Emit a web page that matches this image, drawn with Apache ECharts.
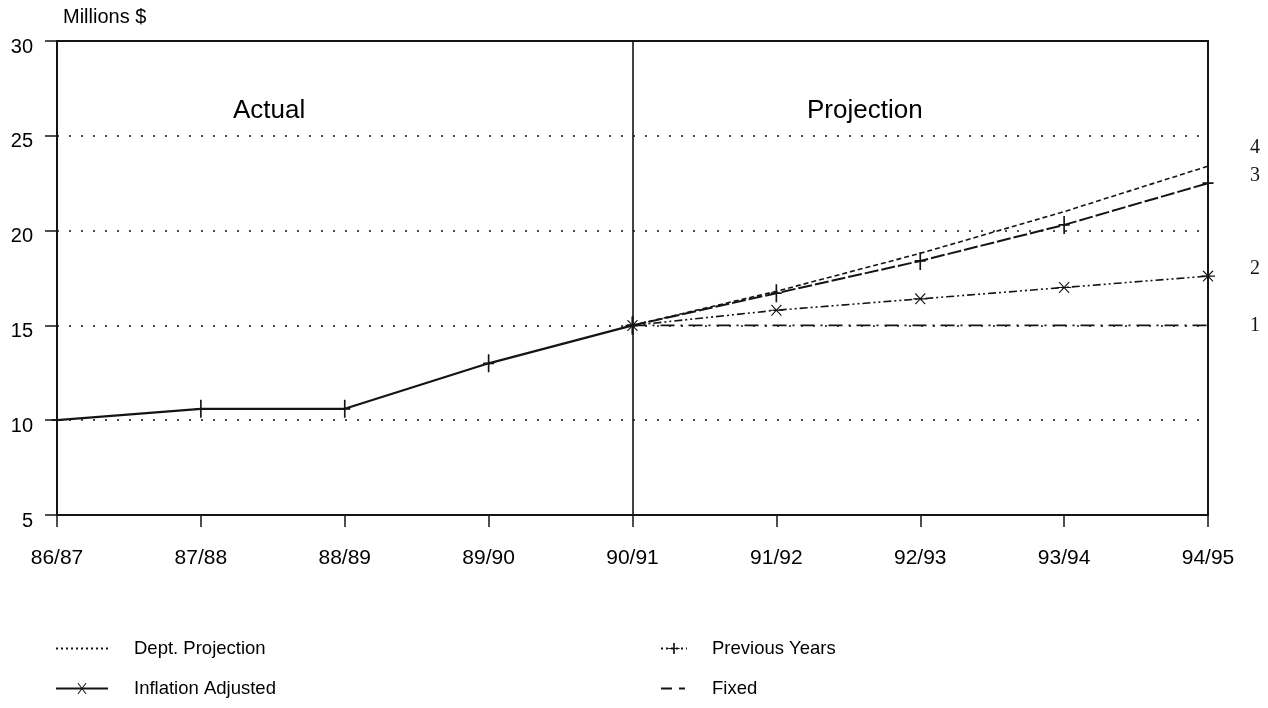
<!DOCTYPE html>
<html>
<head>
<meta charset="utf-8">
<script src="https://cdn.jsdelivr.net/npm/echarts@6/dist/echarts.min.js"></script>
<style>html,body{margin:0;padding:0;background:#fff;}#c{width:1268px;height:708px;}</style>
</head>
<body>
<div id="c"></div>
<script>
const categories = ['86/87','87/88','88/89','89/90','90/91','91/92','92/93','93/94','94/95'];
const actualValues = [10.0, 10.6, 10.6, 13.0, 15.0, null, null, null, null];
const deptProjection = [null, null, null, null, 15.0, 16.8, 18.8, 21.0, 23.4];
const inflationAdjusted = [null, null, null, null, 15.0, 15.8, 16.4, 17.0, 17.6];
const previousYears = [null, null, null, null, 15.0, 16.7, 18.4, 20.3, 22.5];
const fixedValues = [null, null, null, null, 15.0, 15.0, 15.0, 15.0, 15.0];
const yTicks = [5, 10, 15, 20, 25, 30];
const lineNumbers = {dept: '4', prev: '3', infl: '2', fixed: '1'};

const INK = '#141414';
const plusPath = 'path://M-0.12,-1H0.12V1H-0.12Z M-0.8,-0.1H0.8V0.1H-0.8Z';
const starPath = 'path://M-1,-0.1H1V0.1H-1Z M-0.8,-0.95L-0.62,-1L0.8,0.95L0.62,1Z M0.62,-1L0.8,-0.95L-0.62,1L-0.8,0.95Z';
const font = '"Liberation Sans", Arial, sans-serif';
const serif = '"Liberation Serif", "DejaVu Serif", serif';

function endLab(txt, dy) {
  return {show: true, formatter: txt, fontFamily: serif, fontSize: 20, color: INK, offset: [34, dy]};
}
// legend-only proxies (no data) that carry the legend key styles
function proxy(name, dash, width, symbol, visibleSymbol) {
  return {name: name, type: 'line', data: [], symbol: symbol, symbolSize: 12,
    lineStyle: {color: INK, width: width, type: dash},
    itemStyle: visibleSymbol ? {color: INK} : {color: 'rgba(0,0,0,0)', borderWidth: 0}};
}

const chart = echarts.init(document.getElementById('c'));
chart.setOption({
  animation: false,
  backgroundColor: '#fff',
  grid: {left: 57, right: 60, top: 41, bottom: 193, show: true, borderColor: INK, borderWidth: 2},
  xAxis: {
    type: 'category', data: categories, boundaryGap: false,
    axisLine: {lineStyle: {color: INK, width: 2}},
    axisTick: {show: true, length: 12, lineStyle: {color: INK, width: 1.5}},
    axisLabel: {color: '#000', fontFamily: font, fontSize: 21, margin: 33},
    splitLine: {show: false}
  },
  yAxis: {
    type: 'value', min: 5, max: 30, interval: 5,
    name: 'Millions $', nameLocation: 'end', nameGap: 14,
    nameTextStyle: {color: '#000', fontFamily: font, fontSize: 20, align: 'left', padding: [0, 0, 0, 6]},
    axisLine: {show: true, lineStyle: {color: INK, width: 2}},
    axisTick: {show: true, length: 12, lineStyle: {color: INK, width: 1.5}},
    axisLabel: {color: '#000', fontFamily: font, fontSize: 20, margin: 24, verticalAlign: 'top', lineHeight: 12},
    splitLine: {show: true, lineStyle: {color: INK, type: [2, 10], width: 1.6}}
  },
  legend: [
    {data: ['Dept. Projection', 'Inflation Adjusted'],
     orient: 'vertical', left: 55, top: 639, padding: 0,
     itemWidth: 52, itemHeight: 14, itemGap: 21,
     textStyle: {color: '#000', fontFamily: font, fontSize: 18.5, padding: [0, 0, 0, 21]}},
    {data: ['Previous Years', 'Fixed'],
     orient: 'vertical', left: 660, top: 639, padding: 0,
     itemWidth: 26, itemHeight: 14, itemGap: 21,
     textStyle: {color: '#000', fontFamily: font, fontSize: 18.5, padding: [0, 0, 0, 20]}}
  ],
  graphic: [
    {type: 'text', left: 233, top: 98, style: {text: 'Actual', font: '26px ' + font, fill: '#000'}},
    {type: 'text', left: 807, top: 98, style: {text: 'Projection', font: '26px ' + font, fill: '#000'}}
  ],
  series: [
    proxy('Dept. Projection', [2, 3], 1.3, 'circle', false),
    proxy('Inflation Adjusted', 'solid', 1.6, starPath, true),
    proxy('Previous Years', [2, 3], 1.3, plusPath, true),
    proxy('Fixed', [11, 7, 6, 30], 1.6, 'circle', false),
    {name: 'Actual', type: 'line', data: actualValues, z: 5,
     lineStyle: {color: INK, width: 2.2}, symbol: plusPath, symbolSize: [11, 18],
     itemStyle: {color: INK}, showSymbol: true,
     markLine: {silent: true, symbol: 'none', label: {show: false},
       lineStyle: {color: INK, type: 'solid', width: 1.6},
       data: [{xAxis: '90/91'}]}},
    {name: 'Dept. Projection', type: 'line', data: deptProjection, showSymbol: false, symbol: 'none',
     lineStyle: {color: INK, width: 1.6, type: [5, 3]}, itemStyle: {color: INK},
     endLabel: endLab(lineNumbers.dept, -18)},
    {name: 'Previous Years', type: 'line', data: previousYears,
     symbol: plusPath, symbolSize: [11, 18], itemStyle: {color: INK},
     lineStyle: {color: INK, width: 2, type: [14, 3]},
     endLabel: endLab(lineNumbers.prev, -7)},
    {name: 'Inflation Adjusted', type: 'line', data: inflationAdjusted,
     symbol: starPath, symbolSize: [14, 11], itemStyle: {color: INK},
     lineStyle: {color: INK, width: 1.6, type: [8, 3, 2, 3, 2, 3]},
     endLabel: endLab(lineNumbers.infl, -7)},
    {name: 'Fixed', type: 'line', data: fixedValues, showSymbol: false, symbol: 'none',
     itemStyle: {color: INK},
     lineStyle: {color: INK, width: 1.6, type: [14, 6, 2, 6]},
     endLabel: endLab(lineNumbers.fixed, 0)}
  ]
});
</script>
</body>
</html>
